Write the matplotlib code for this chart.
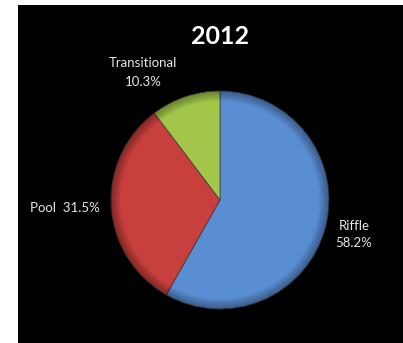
"""Habitat composition pie for 2012 (riffle / pool / transitional)."""
import matplotlib.pyplot as plt
from matplotlib.patches import Wedge

habitats = ["Riffle", "Pool", "Transitional"]
shares = [58.2, 31.5, 10.3]
colors = ["#5A8ED2", "#C8403D", "#A3C64A"]
year = "2012"

plt.rcParams['font.family'] = ['Lato', 'DejaVu Sans']

W, H = 403, 343
fig = plt.figure(figsize=(W / 100, H / 100), dpi=100, facecolor="white")

# black chart area, white strip on the left and top
bg = fig.add_axes([18 / W, 0, 1 - 18 / W, 1 - 5 / H])
bg.set_facecolor("black")
bg.set_xticks([])
bg.set_yticks([])
for s in bg.spines.values():
    s.set_visible(False)

# pixel-space axes so the pie can be placed exactly
ax = fig.add_axes([0, 0, 1, 1])
cx, cy, R = 220, 143, 109

wedges, _ = ax.pie(shares, colors=colors, startangle=90, counterclock=False,
                   center=(cx, cy), radius=R, frame=True,
                   wedgeprops=dict(linewidth=0.5, edgecolor="#3a3a3a"))
ax.set_xlim(0, W)
ax.set_ylim(0, H)
ax.set_axis_off()

# soft darker rim on each slice for a bevelled look
steps = 8
for w in wedges:
    for k in range(steps):
        r_in = R * (0.91 + 0.011 * k)
        ax.add_patch(Wedge((cx, cy), R, w.theta1, w.theta2, width=R - r_in,
                           facecolor="black", alpha=0.045, edgecolor="none"))

txt = dict(color="#e6e6e6", fontsize=9.5, ha="center", va="center")
ax.text(143, 280, habitats[2], **txt)
ax.text(143, 261, f"{shares[2]:.1f}%", **txt)
ax.text(65, 135, f"{habitats[1]}  {shares[1]:.1f}%", **txt)
ax.text(354, 117, habitats[0], **txt)
ax.text(354, 100, f"{shares[0]:.1f}%", **txt)

ax.text(220, 307, year, color="white", fontsize=18, fontweight="bold",
        ha="center", va="center")

fig.savefig("out.png", dpi=100, facecolor=fig.get_facecolor())
